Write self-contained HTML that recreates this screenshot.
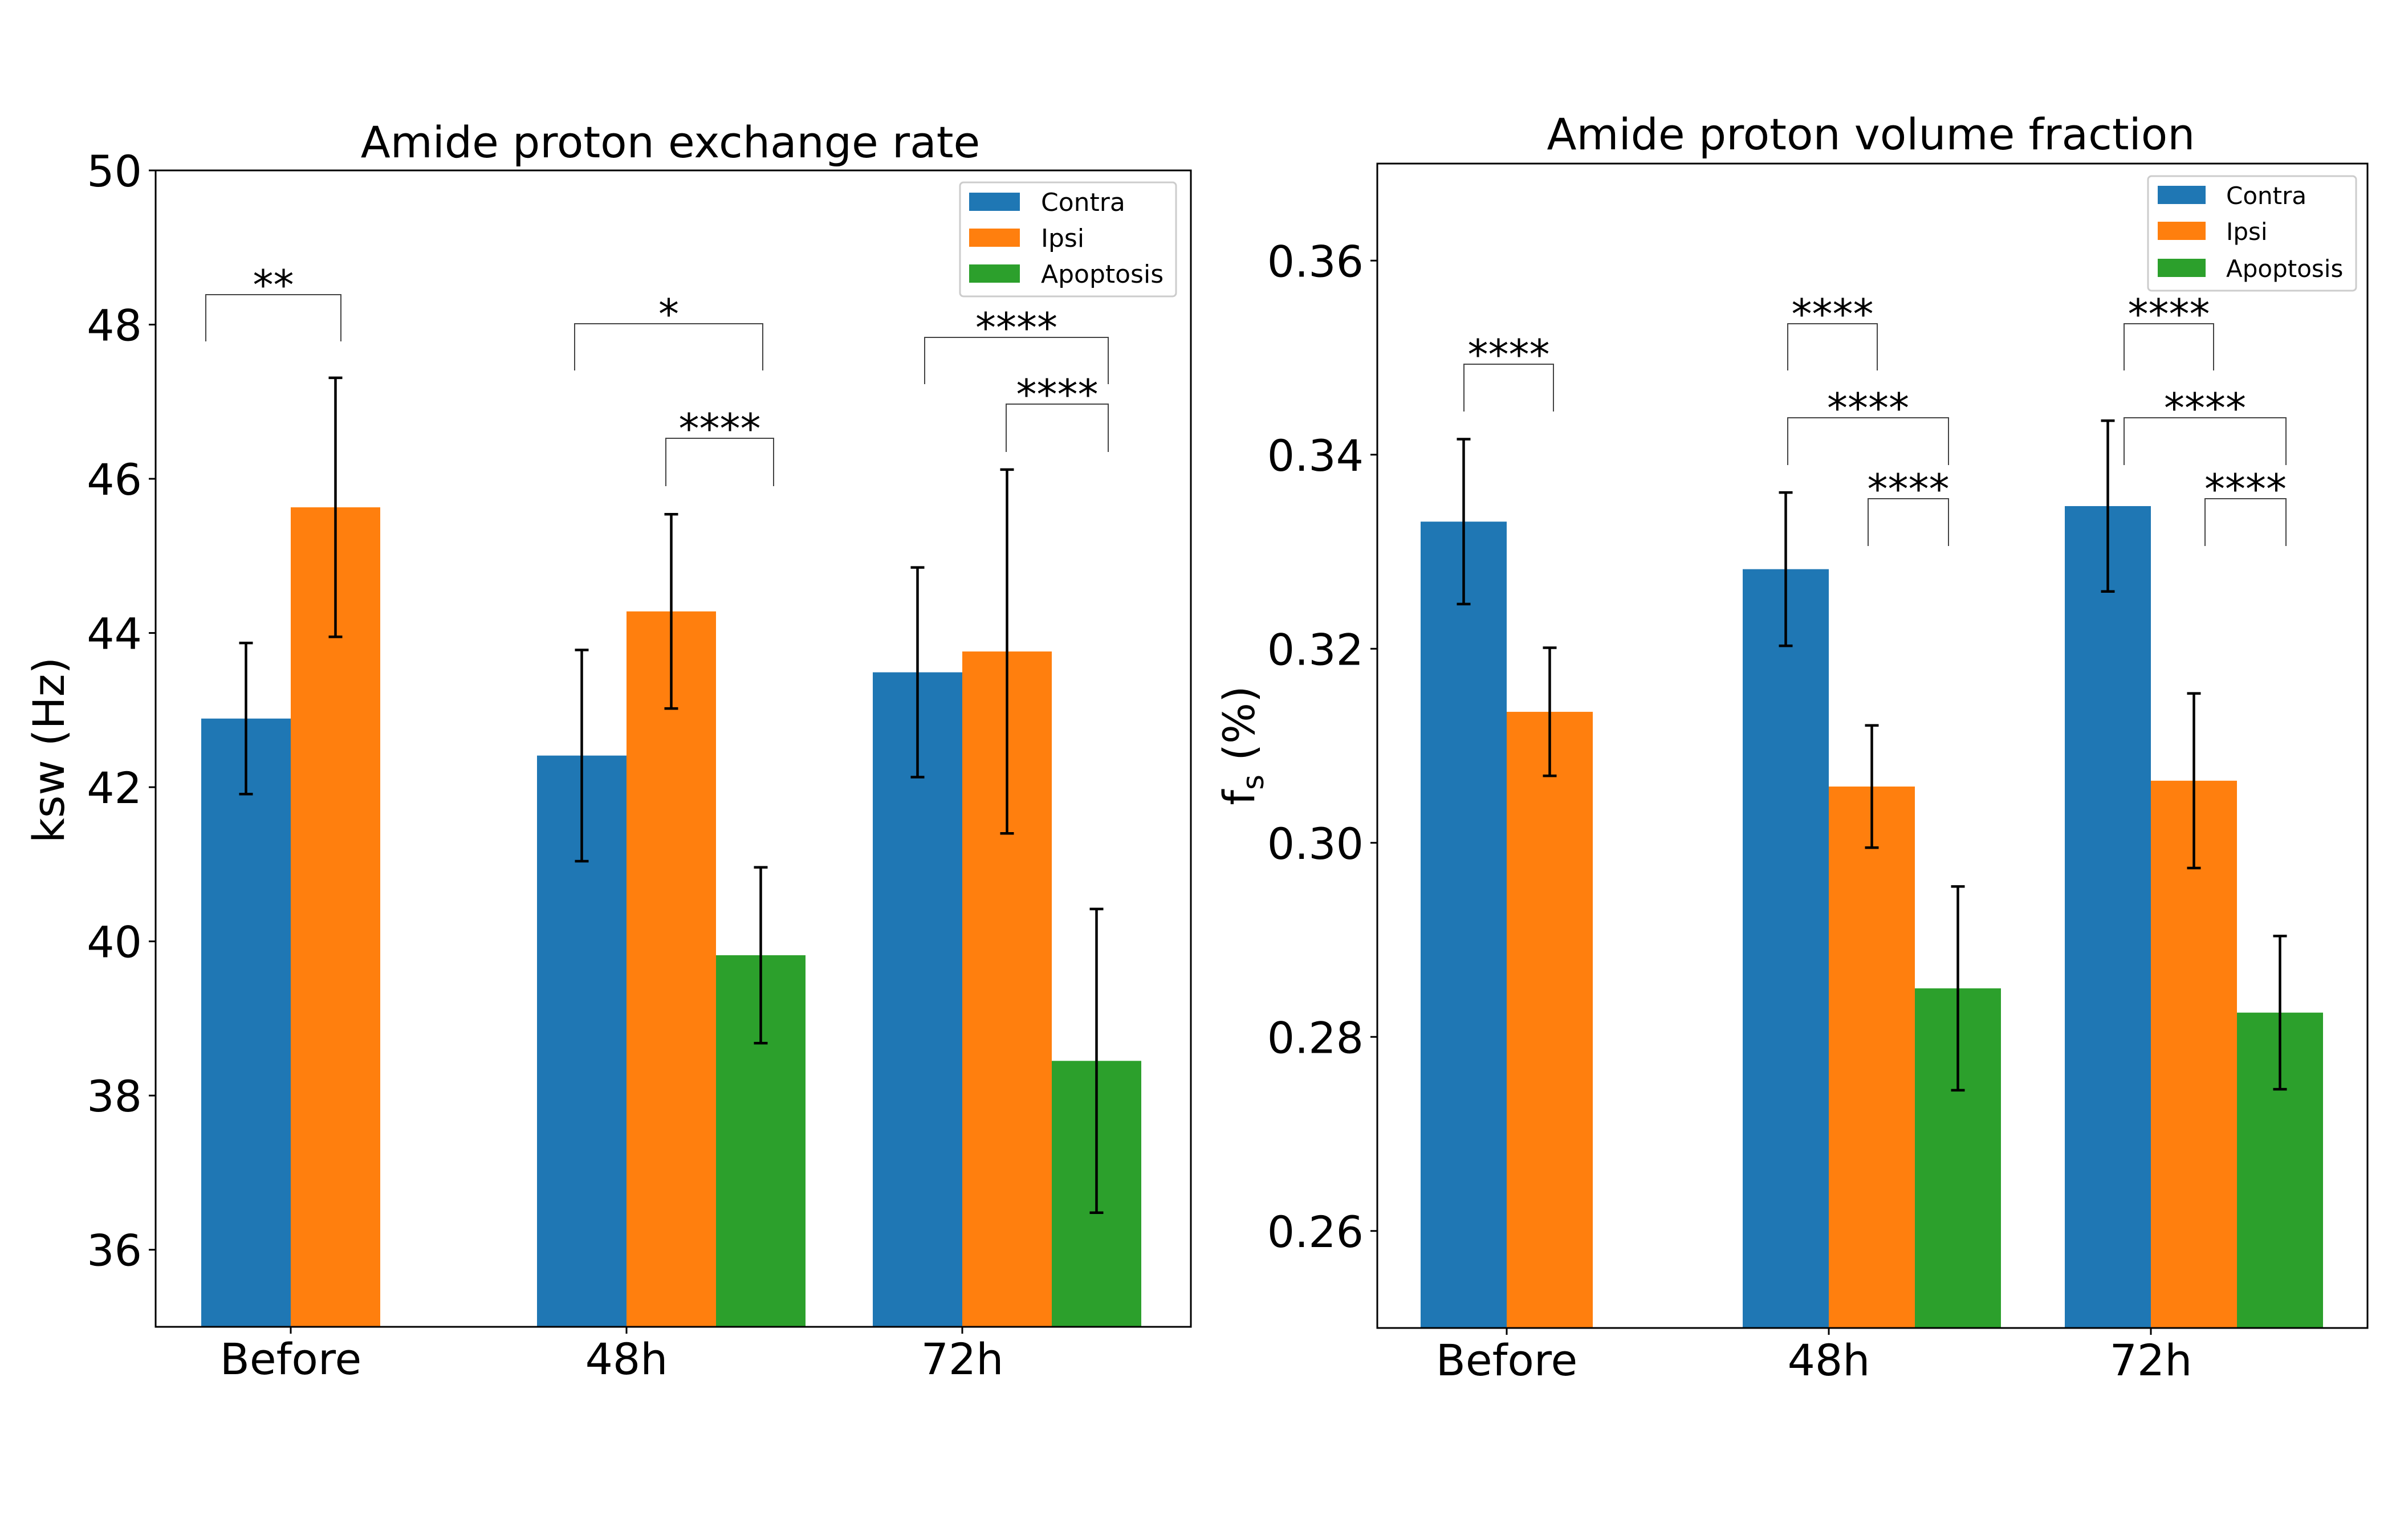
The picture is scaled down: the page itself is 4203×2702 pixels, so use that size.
<!DOCTYPE html>
<html><head><meta charset="utf-8"><style>
html,body{margin:0;padding:0;background:#fff;}
svg{display:block;font-family:"DejaVu Sans","Liberation Sans",sans-serif;}
</style></head><body>
<svg id="fig" width="4203" height="2702" viewBox="0 0 4203 2702" xmlns="http://www.w3.org/2000/svg">
<rect width="4203" height="2702" fill="#fff"/>
</svg>
<script>
const categories = ["Before","48h","72h"];
const seriesNames = ["Contra","Ipsi","Apoptosis"];
const colors = ["#1f77b4","#ff7f0e","#2ca02c"];
// Left panel: exchange rate ksw (Hz)
const ksw_contra = [42.89, 42.41, 43.49];
const ksw_ipsi = [45.63, 44.28, 43.76];
const ksw_apop = [null, 39.82, 38.45];
const ksw_contra_err = [0.98, 1.37, 1.36];
const ksw_ipsi_err = [1.68, 1.26, 2.36];
const ksw_apop_err = [null, 1.14, 1.97];
const ksw_ticks = [36, 38, 40, 42, 44, 46, 48, 50];
// Right panel: volume fraction
const fs_contra = [0.3331, 0.3282, 0.3347];
const fs_ipsi = [0.3135, 0.3058, 0.3064];
const fs_apop = [null, 0.2850, 0.2825];
const fs_contra_err = [0.0085, 0.0079, 0.0088];
const fs_ipsi_err = [0.0066, 0.0063, 0.0090];
const fs_apop_err = [null, 0.0105, 0.0079];
const fs_ticks = [0.26, 0.28, 0.30, 0.32, 0.34, 0.36];

const NS = "http://www.w3.org/2000/svg";
const svg = document.getElementById("fig");
function mk(tag, attrs, parent, text){
  const e = document.createElementNS(NS, tag);
  for (const k in attrs) e.setAttribute(k, attrs[k]);
  if (text !== undefined) e.textContent = text;
  (parent||svg).appendChild(e);
  return e;
}

function panel(cfg){
  const g = mk("g", {});
  
  
  const y = v => cfg.top + (cfg.ymax - v) / (cfg.ymax - cfg.ymin) * (cfg.bottom - cfg.top);
  const xc = i => cfg.x0 + i * cfg.spacing;
  const w = cfg.bw;
  const series = [cfg.s0, cfg.s1, cfg.s2];
  const errs = [cfg.e0, cfg.e1, cfg.e2];
  for (let s = 0; s < 3; s++){
    for (let i = 0; i < categories.length; i++){
      const v = series[s][i];
      if (v === null) continue;
      const left = xc(i) + (s - 1) * w;
      const r = mk("rect", {x:left, y:y(v), width:w, height:cfg.bottom - y(v), fill:colors[s]}, g);
      
      
    }
  }
  for (let s = 0; s < 3; s++){
    for (let i = 0; i < categories.length; i++){
      const v = series[s][i], e = errs[s][i];
      if (v === null) continue;
      const cx = xc(i) + (s - 0.5) * w;
      const eg = mk("g", {stroke:"#000", "stroke-width":4.5}, g);
      
      
      mk("line", {x1:cx, x2:cx, y1:y(v+e), y2:y(v-e)}, eg);
      mk("line", {x1:cx-12, x2:cx+12, y1:y(v+e), y2:y(v+e)}, eg);
      mk("line", {x1:cx-12, x2:cx+12, y1:y(v-e), y2:y(v-e)}, eg);
    }
  }
  const fr = mk("rect", {x:cfg.left, y:cfg.top, width:cfg.right-cfg.left, height:cfg.bottom-cfg.top, fill:"none", stroke:"#000", "stroke-width":3}, g);
  
  
  cfg.ticks.forEach(t => {
    mk("line", {x1:cfg.left-12, x2:cfg.left, y1:y(t), y2:y(t), stroke:"#000", "stroke-width":3}, g);
    const tl = mk("text", {x:cfg.left-24, y:y(t)+28, "text-anchor":"end", "font-size":76, fill:"#000"}, g, cfg.fmt(t));
    
    
  });
  categories.forEach((c, i) => {
    mk("line", {x1:xc(i), x2:xc(i), y1:cfg.bottom, y2:cfg.bottom+12, stroke:"#000", "stroke-width":3}, g);
    const tl = mk("text", {x:xc(i), y:cfg.bottom+83, "text-anchor":"middle", "font-size":76, fill:"#000"}, g, c);
    
    
  });
  const tt = mk("text", {x:cfg.titleX, y:cfg.titleY, "text-anchor":"middle", "font-size":76, fill:"#000"}, g, cfg.title);
  
  
  cfg.brackets.forEach(b => {
    const bg = mk("g", {}, g);
    
    
    mk("path", {d:`M${b[0]},${b[3]} L${b[0]},${b[2]} L${b[1]},${b[2]} L${b[1]},${b[3]}`, fill:"none", stroke:"#444", "stroke-width":2}, bg);
    mk("text", {x:(b[0]+b[1])/2, y:b[2]+8, "text-anchor":"middle", "font-size":72, fill:"#000"}, bg, b[4]);
  });
  const L = cfg.legend;
  const lg = mk("g", {}, g);
  
  
  mk("rect", {x:L.x, y:L.y, width:L.w, height:L.h, rx:6, fill:"#fff", stroke:"#ccc", "stroke-width":3}, lg);
  seriesNames.forEach((n, k) => {
    const cy = L.cy[k];
    const eg = mk("g", {}, lg);
    
    
    mk("rect", {x:L.px, y:cy-16, width:L.pw, height:32, fill:colors[k]}, eg);
    mk("text", {x:L.tx, y:cy+16, "font-size":L.fs, fill:"#000"}, eg, n);
  });
}

panel({
  name:"exchange-rate-chart", title:"Amide proton exchange rate", titleX:1176, titleY:276,
  left:273, right:2089, top:299, bottom:2328, ymin:35, ymax:50,
  x0:510, spacing:589, bw:157,
  s0:ksw_contra, s1:ksw_ipsi, s2:ksw_apop, e0:ksw_contra_err, e1:ksw_ipsi_err, e2:ksw_apop_err,
  ticks:ksw_ticks, fmt:t=>String(t),
  brackets:[[361,598,517,599,"**"],[1008,1338,568,650,"*"],[1168,1357,769,853,"****"],[1622,1944,592,674,"****"],[1765,1944,709,793,"****"]],
  legend:{x:1684,y:320,w:379,h:200,px:1700,pw:89,tx:1826,cy:[354,417,480],fs:44}
});
panel({
  name:"volume-fraction-chart", title:"Amide proton volume fraction", titleX:3282, titleY:262,
  left:2416, right:4153, top:287, bottom:2330, ymin:0.25, ymax:0.37,
  x0:2643, spacing:565, bw:151,
  s0:fs_contra, s1:fs_ipsi, s2:fs_apop, e0:fs_contra_err, e1:fs_ipsi_err, e2:fs_apop_err,
  ticks:fs_ticks, fmt:t=>t.toFixed(2),
  brackets:[[2568,2725,639,722,"****"],[3136,3293,568,650,"****"],[3136,3418,733,816,"****"],[3277,3418,875,958,"****"],[3726,3883,568,650,"****"],[3726,4010,733,816,"****"],[3868,4010,875,958,"****"]],
  legend:{x:3768,y:309,w:365,h:201,px:3785,pw:84,tx:3905,cy:[342,405,470],fs:42}
});
const yl1 = mk("text", {x:0, y:0, transform:"translate(112,1316) rotate(-90)", "text-anchor":"middle", "font-size":76, fill:"#000"}, svg, "ksw (Hz)");


const yl2 = mk("text", {x:0, y:0, transform:"translate(2200,1308) rotate(-90)", "text-anchor":"middle", "font-size":76, fill:"#000"}, svg);


mk("tspan", {}, yl2, "f");
mk("tspan", {dy:16, "font-size":52}, yl2, "s");
mk("tspan", {dy:-16}, yl2, " (%)");
</script>
</body></html>
